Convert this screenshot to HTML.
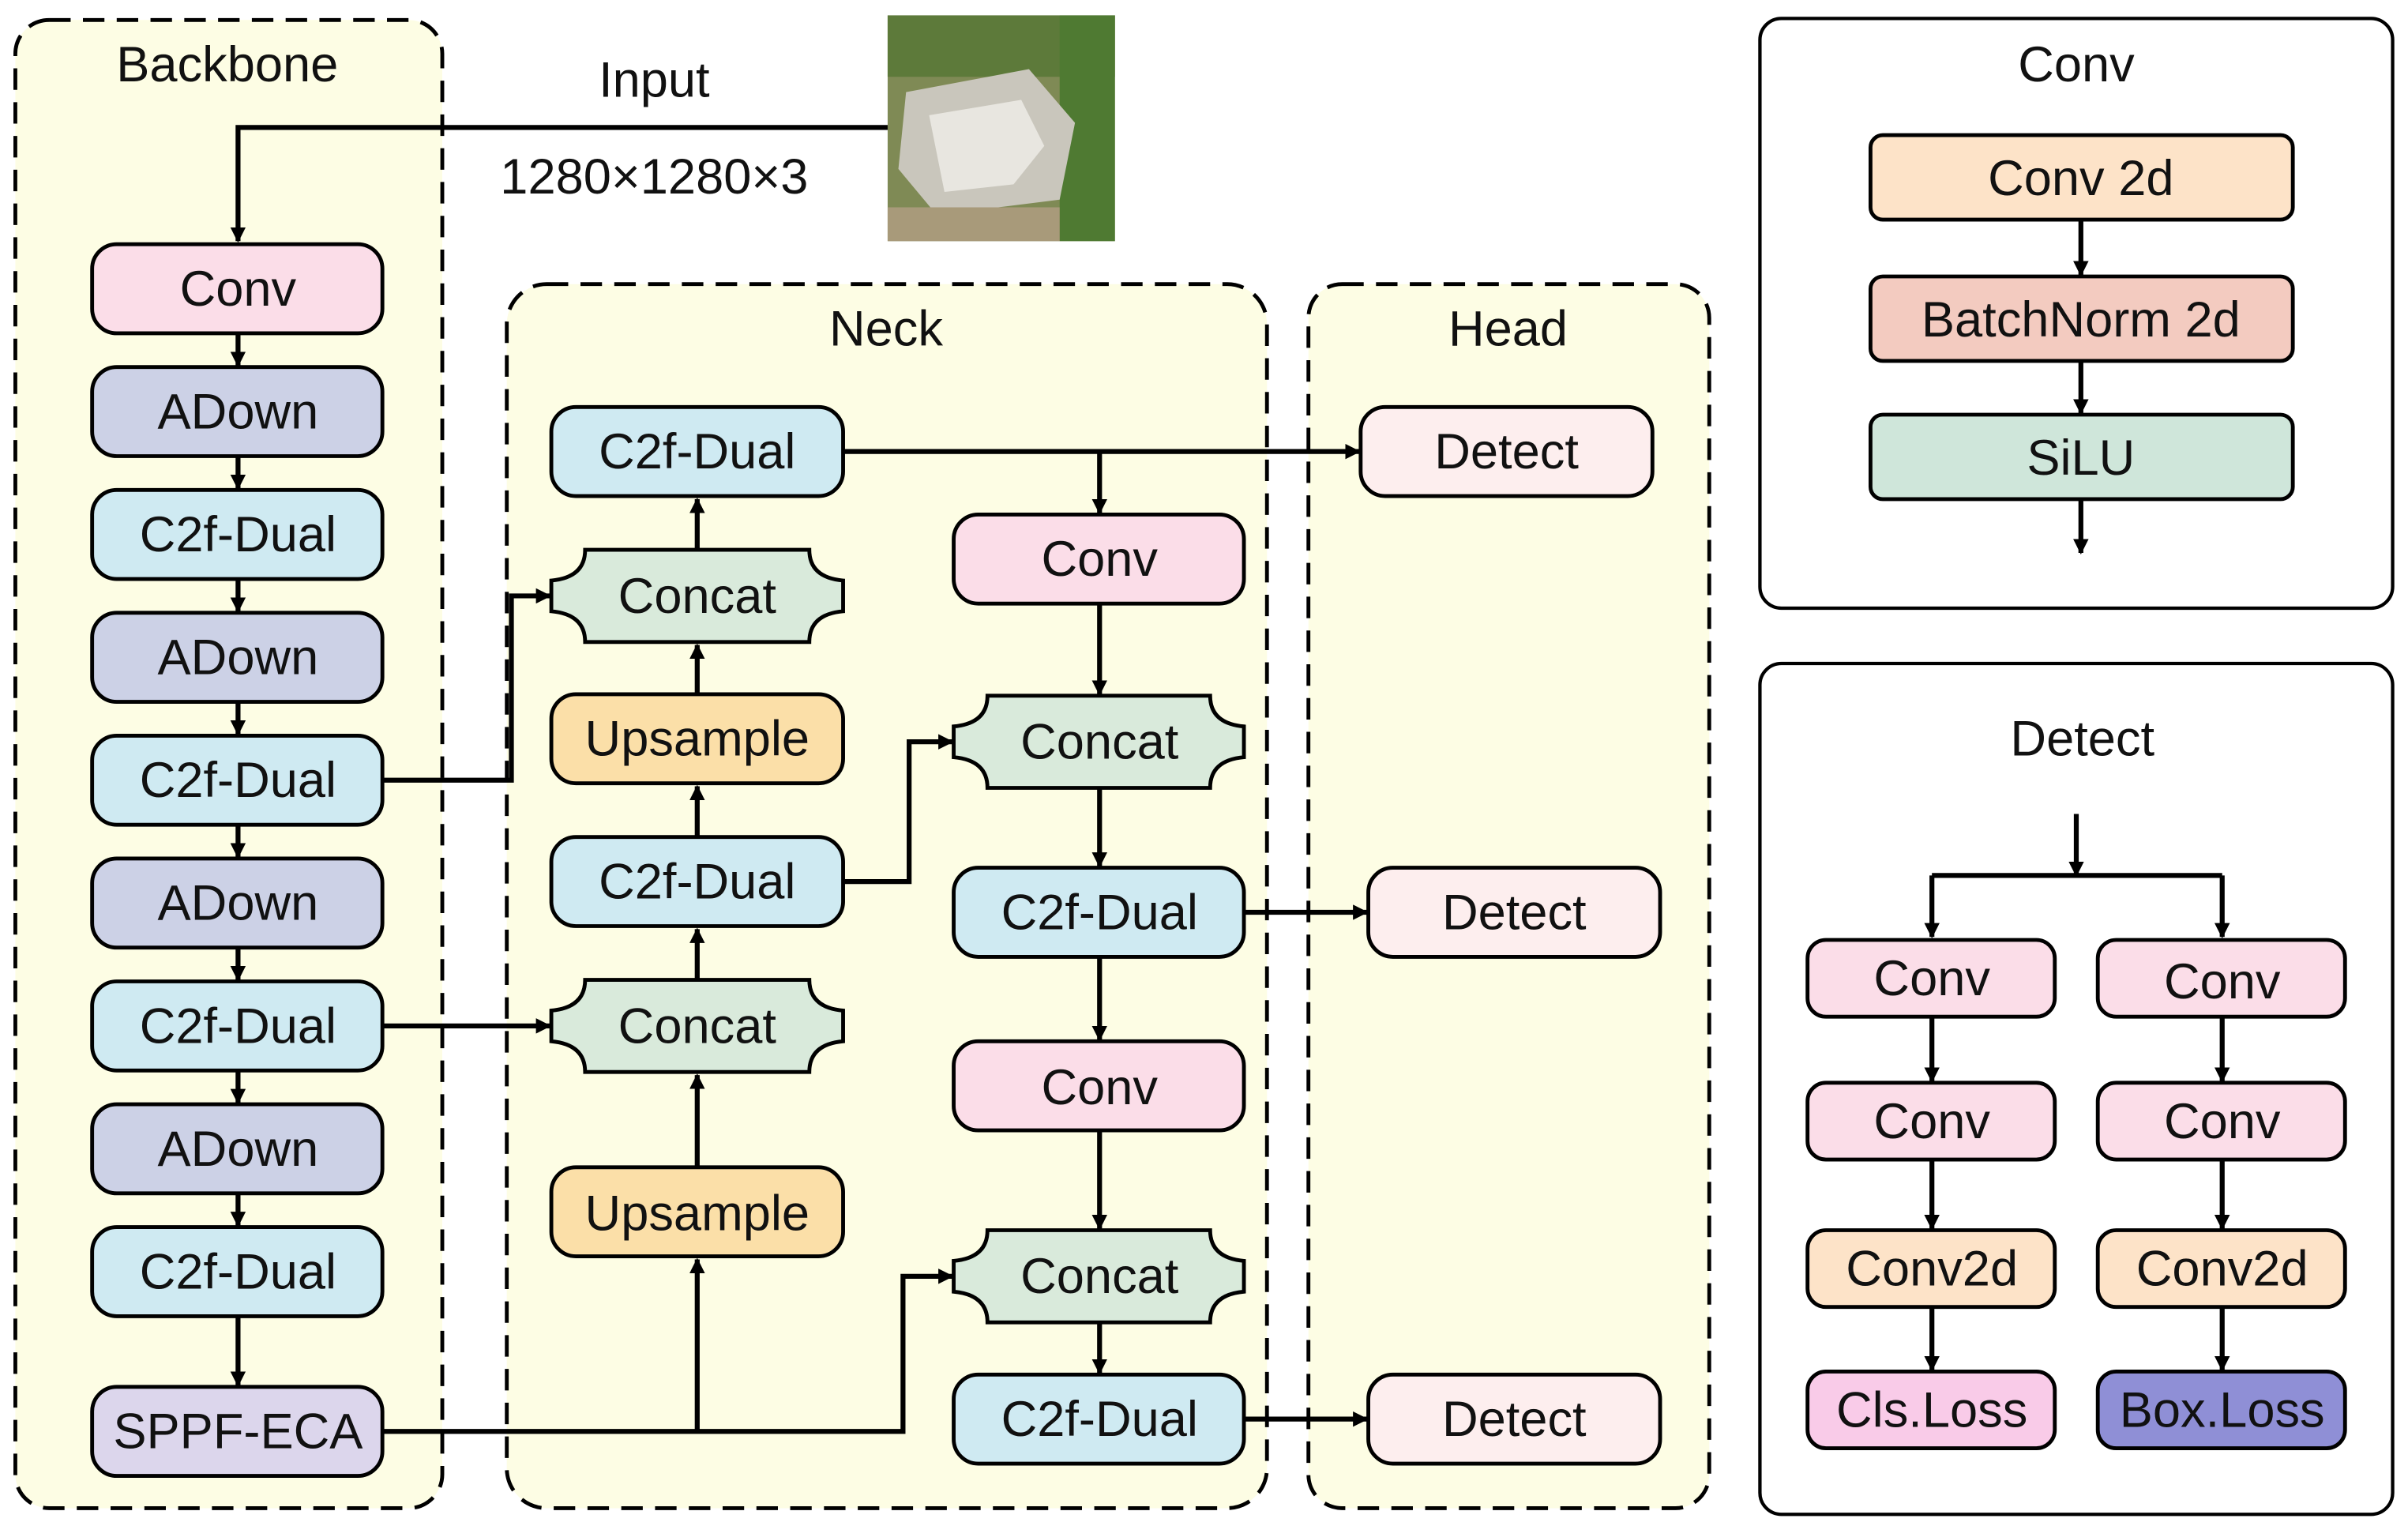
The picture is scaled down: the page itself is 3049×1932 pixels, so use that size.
<!DOCTYPE html>
<html><head><meta charset="utf-8"><style>html,body{margin:0;padding:0;background:#fff}svg{display:block}</style></head>
<body>
<svg width="3049" height="1932" viewBox="0 0 1568 993.6" preserveAspectRatio="none" xmlns="http://www.w3.org/2000/svg" font-family="Liberation Sans, sans-serif">
<defs>
<marker id="b" viewBox="0 0 10 10" refX="9" refY="5" markerWidth="10" markerHeight="10" orient="auto" markerUnits="userSpaceOnUse"><path d="M0,0 L10,5 L0,10 Z" fill="#000"/></marker>
</defs>
<g fill="#fdfde4" stroke="#000" stroke-width="2.5" stroke-dasharray="14 8">
<rect x="10" y="13" width="278" height="969" rx="22"/>
<rect x="330" y="185" width="495" height="797" rx="26"/>
<rect x="852" y="185" width="261" height="797" rx="22"/>
</g>
<g fill="#fff" stroke="#000" stroke-width="2.2">
<rect x="1146" y="12" width="412" height="384" rx="14"/>
<rect x="1146" y="432" width="412" height="554" rx="14"/>
</g>
<g font-size="32.5" text-anchor="middle" fill="#111">
<text x="148" y="53">Backbone</text>
<text x="426" y="63">Input</text>
<text x="426" y="126">1280×1280×3</text>
<text x="577" y="225">Neck</text>
<text x="982" y="225">Head</text>
<text x="1352" y="53">Conv</text>
<text x="1356" y="492">Detect</text>
</g>
<rect x="578" y="10" width="148" height="147" fill="#7f8a55"/>
<rect x="578" y="10" width="148" height="40" fill="#5d7a3a"/>
<rect x="690" y="10" width="36" height="147" fill="#4f7a32"/>
<path d="M590,60 L670,45 L700,80 L690,130 L610,140 L585,110 Z" fill="#c9c6bc"/>
<path d="M605,75 L665,65 L680,95 L660,120 L615,125 Z" fill="#e8e6e0"/>
<rect x="578" y="135" width="112" height="22" fill="#a89a7a"/>
<g stroke="#000" stroke-width="3.2" fill="none" marker-end="url(#b)">
<path d="M578,83 H155 V157"/>
<path d="M155,217 V238"/><path d="M155,297 V318"/><path d="M155,377 V398"/><path d="M155,457 V478"/>
<path d="M155,537 V558"/><path d="M155,617 V638"/><path d="M155,697 V718"/><path d="M155,777 V798"/>
<path d="M155,857 V902"/>
<path d="M249,508 H333 V388 H358"/>
<path d="M249,668 H358"/>
<path d="M249,932 H588 V831 H620"/>
<path d="M454,932 V820"/>
<path d="M454,760 V700"/>
<path d="M454,638 V605"/>
<path d="M454,545 V512"/>
<path d="M454,452 V420"/>
<path d="M454,358 V325"/>
<path d="M549,574 H592 V483 H620"/>
<path d="M549,294 H885"/>
<path d="M716,294 V334"/>
<path d="M716,393 V452"/>
<path d="M716,513 V564"/>
<path d="M716,623 V677"/>
<path d="M716,736 V800"/>
<path d="M716,861 V894"/>
<path d="M810,594 H890"/>
<path d="M810,924 H890"/>
<path d="M1355,143 V179"/>
<path d="M1355,235 V269"/>
<path d="M1355,325 V360"/>
<path d="M1352,530 V570"/>
<path d="M1258,570 V610"/>
<path d="M1447,570 V610"/>
<path d="M1258,662 V704"/><path d="M1447,662 V704"/>
<path d="M1258,755 V800"/><path d="M1447,755 V800"/>
<path d="M1258,851 V892"/><path d="M1447,851 V892"/>
</g>
<path d="M1258,570 H1447" stroke="#000" stroke-width="3.2"/>
<g stroke="#000" stroke-width="2.5">
<rect x="60" y="159" width="189" height="58" rx="16" fill="#fbdde8"/>
<rect x="60" y="239" width="189" height="58" rx="16" fill="#ccd1e6"/>
<rect x="60" y="319" width="189" height="58" rx="16" fill="#cfeaf2"/>
<rect x="60" y="399" width="189" height="58" rx="16" fill="#ccd1e6"/>
<rect x="60" y="479" width="189" height="58" rx="16" fill="#cfeaf2"/>
<rect x="60" y="559" width="189" height="58" rx="16" fill="#ccd1e6"/>
<rect x="60" y="639" width="189" height="58" rx="16" fill="#cfeaf2"/>
<rect x="60" y="719" width="189" height="58" rx="16" fill="#ccd1e6"/>
<rect x="60" y="799" width="189" height="58" rx="16" fill="#cfeaf2"/>
<rect x="60" y="903" width="189" height="58" rx="16" fill="#dcd6ec"/>
<rect x="359" y="265" width="190" height="58" rx="16" fill="#cfeaf2"/>
<rect x="359" y="452" width="190" height="58" rx="16" fill="#fbdfa8"/>
<rect x="359" y="545" width="190" height="58" rx="16" fill="#cfeaf2"/>
<rect x="359" y="760" width="190" height="58" rx="16" fill="#fbdfa8"/>
<rect x="621" y="335" width="189" height="58" rx="16" fill="#fbdde8"/>
<rect x="621" y="565" width="189" height="58" rx="16" fill="#cfeaf2"/>
<rect x="621" y="678" width="189" height="58" rx="16" fill="#fbdde8"/>
<rect x="621" y="895" width="189" height="58" rx="16" fill="#cfeaf2"/>
<rect x="886" y="265" width="190" height="58" rx="16" fill="#fdeeee"/>
<rect x="891" y="565" width="190" height="58" rx="16" fill="#fdeeee"/>
<rect x="891" y="895" width="190" height="58" rx="16" fill="#fdeeee"/>
<rect x="1218" y="88" width="275" height="55" rx="8" fill="#fde3c8"/>
<rect x="1218" y="180" width="275" height="55" rx="8" fill="#f3cbc0"/>
<rect x="1218" y="270" width="275" height="55" rx="8" fill="#cfe6da"/>
<rect x="1177" y="612" width="161" height="50" rx="12" fill="#fbdde8"/>
<rect x="1366" y="612" width="161" height="50" rx="12" fill="#fbdde8"/>
<rect x="1177" y="705" width="161" height="50" rx="12" fill="#fbdde8"/>
<rect x="1366" y="705" width="161" height="50" rx="12" fill="#fbdde8"/>
<rect x="1177" y="801" width="161" height="50" rx="12" fill="#fde3c8"/>
<rect x="1366" y="801" width="161" height="50" rx="12" fill="#fde3c8"/>
<rect x="1177" y="893" width="161" height="50" rx="12" fill="#f9cbe8"/>
<rect x="1366" y="893" width="161" height="50" rx="12" fill="#8f8fd6"/>
</g>
<g stroke="#000" stroke-width="2.5" fill="#d9eadb">
<path d="M381,358 H527 Q527,376 549,378 V398 Q527,400 527,418 H381 Q381,400 359,398 V378 Q381,376 381,358 Z"/>
<path d="M381,638 H527 Q527,656 549,658 V678 Q527,680 527,698 H381 Q381,680 359,678 V658 Q381,656 381,638 Z"/>
<path d="M643,453 H788 Q788,471 810,473 V493 Q788,495 788,513 H643 Q643,495 621,493 V473 Q643,471 643,453 Z"/>
<path d="M643,801 H788 Q788,819 810,821 V841 Q788,843 788,861 H643 Q643,843 621,841 V821 Q643,819 643,801 Z"/>
</g>
<g font-size="32.5" text-anchor="middle" fill="#111">
<text x="155" y="199">Conv</text>
<text x="155" y="279">ADown</text>
<text x="155" y="359">C2f-Dual</text>
<text x="155" y="439">ADown</text>
<text x="155" y="519">C2f-Dual</text>
<text x="155" y="599">ADown</text>
<text x="155" y="679">C2f-Dual</text>
<text x="155" y="759">ADown</text>
<text x="155" y="839">C2f-Dual</text>
<text x="155" y="943">SPPF-ECA</text>
<text x="454" y="305">C2f-Dual</text>
<text x="454" y="399">Concat</text>
<text x="454" y="492">Upsample</text>
<text x="454" y="585">C2f-Dual</text>
<text x="454" y="679">Concat</text>
<text x="454" y="801">Upsample</text>
<text x="716" y="375">Conv</text>
<text x="716" y="494">Concat</text>
<text x="716" y="605">C2f-Dual</text>
<text x="716" y="719">Conv</text>
<text x="716" y="842">Concat</text>
<text x="716" y="935">C2f-Dual</text>
<text x="981" y="305">Detect</text>
<text x="986" y="605">Detect</text>
<text x="986" y="935">Detect</text>
<text x="1355" y="127">Conv 2d</text>
<text x="1355" y="219">BatchNorm 2d</text>
<text x="1355" y="309">SiLU</text>
<text x="1258" y="648">Conv</text>
<text x="1447" y="650">Conv</text>
<text x="1258" y="741">Conv</text>
<text x="1447" y="741">Conv</text>
<text x="1258" y="837">Conv2d</text>
<text x="1447" y="837">Conv2d</text>
<text x="1258" y="929">Cls.Loss</text>
<text x="1447" y="929">Box.Loss</text>
</g>
</svg>
</body></html>
